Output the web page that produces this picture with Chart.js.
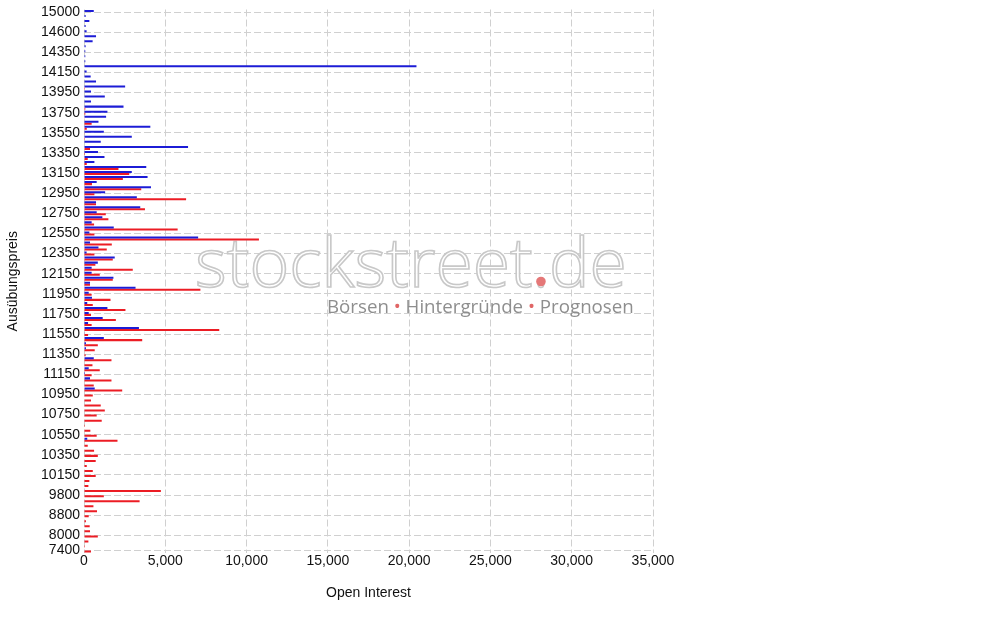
<!DOCTYPE html>
<html>
<head>
<meta charset="utf-8">
<title>Open Interest</title>
<script src="https://cdn.jsdelivr.net/npm/chart.js@4/dist/chart.umd.min.js"></script>
<style>
  html, body { margin: 0; padding: 0; background: #fff; }
  #wrap { position: relative; width: 1008px; height: 630px; }
</style>
</head>
<body>
<div id="wrap"><canvas id="oiChart" width="1008" height="630"></canvas></div>
<script>
// Strike prices, top to bottom
const strikes = [
  '15000', '14900', '14800', '14700', '14600', '14500', '14450', '14400',
  '14350', '14300', '14250', '14200', '14150', '14100', '14050', '14000',
  '13950', '13900', '13850', '13800', '13750', '13700', '13650', '13600',
  '13550', '13500', '13450', '13400', '13350', '13300', '13250', '13200',
  '13150', '13100', '13050', '13000', '12950', '12900', '12850', '12800',
  '12750', '12700', '12650', '12600', '12550', '12500', '12450', '12400',
  '12350', '12300', '12250', '12200', '12150', '12100', '12050', '12000',
  '11950', '11900', '11850', '11800', '11750', '11700', '11650', '11600',
  '11550', '11500', '11450', '11400', '11350', '11300', '11250', '11200',
  '11150', '11100', '11050', '11000', '10950', '10900', '10850', '10800',
  '10750', '10700', '10650', '10600', '10550', '10500', '10450', '10400',
  '10350', '10300', '10250', '10200', '10150', '10100', '10050', '10000',
  '9800', '9500', '9200', '9000', '8800', '8600', '8400', '8200',
  '8000', '7800', '7600', '7400'
];

// Calls open interest (blue)
const calls = [
  600, 100, 330, 100, 160, 740, 530, 100,
  80, 80, 80, 20450, 160, 410, 740, 2530,
  430, 1280, 430, 2430, 1440, 1360, 890, 4080,
  1220, 2940, 1030, 6400, 860, 1260, 640, 3830,
  2940, 3910, 780, 4120, 1300, 3250, 740, 3460,
  780, 1130, 470, 1830, 330, 7020, 370, 890,
  160, 1890, 850, 470, 470, 1810, 370, 3170,
  290, 490, 200, 1440, 290, 1150, 250, 3380,
  40, 1220, 120, 120, 0, 600, 0, 290,
  60, 370, 0, 660, 0, 0, 0, 30,
  0, 0, 0, 0, 0, 200, 0, 0,
  0, 0, 0, 0, 0, 0, 0, 40,
  0, 0, 0, 0, 0, 0, 0, 0,
  0, 0, 0, 0
];

// Puts open interest (red)
const puts = [
  0, 0, 0, 0, 0, 0, 0, 0,
  0, 0, 0, 0, 0, 0, 0, 60,
  0, 0, 0, 80, 80, 20, 470, 170,
  40, 60, 0, 370, 60, 230, 170, 2120,
  2780, 2390, 490, 3520, 640, 6280, 740, 3750,
  1340, 1500, 620, 5760, 640, 10760, 1710, 1400,
  640, 1770, 700, 3000, 970, 1770, 370, 7160,
  470, 1630, 540, 2550, 430, 1960, 470, 8320,
  250, 3580, 850, 660, 100, 1690, 520, 970,
  470, 1690, 600, 2350, 540, 430, 1030, 1280,
  780, 1090, 60, 390, 780, 2060, 230, 620,
  850, 720, 170, 540, 720, 330, 270, 4730,
  1220, 3420, 580, 800, 290, 120, 350, 370,
  850, 270, 60, 430
];

const FONT = 'Arial, "Liberation Sans", sans-serif';

// faint site watermark drawn behind the bars
const watermark = {
  id: 'watermark',
  beforeDatasetsDraw(chart) {
    const ctx = chart.ctx;
    ctx.save();
    // main logo text, sized to its width in the picture
    let size = 80;
    ctx.font = '300 ' + size + 'px "Open Sans", sans-serif';
    const w = ctx.measureText('stockstreet.de').width;
    size = size * 432 / w;
    ctx.font = '300 ' + size + 'px "Open Sans", sans-serif';
    ctx.textBaseline = 'alphabetic';
    ctx.fillStyle = 'rgba(255,255,255,0.92)';
    ctx.strokeStyle = '#c8c8c8';
    ctx.lineWidth = 1.6;
    ctx.fillText('stockstreet.de', 195, 287);
    ctx.strokeText('stockstreet.de', 195, 287);
    // red dot of ".de"
    const pre = ctx.measureText('stockstreet').width;
    const dotW = ctx.measureText('.').width;
    ctx.fillStyle = '#e57878';
    ctx.beginPath();
    ctx.arc(195 + pre + dotW / 2, 281.5, 4.8, 0, Math.PI * 2);
    ctx.fill();

    // tagline
    const parts = ['Börsen ', '•', ' Hintergründe ', '•', ' Prognosen'];
    let fs = 20;
    ctx.font = fs + 'px "Open Sans", sans-serif';
    const tw = ctx.measureText(parts.join('')).width;
    fs = fs * 307 / tw;
    ctx.font = fs + 'px "Open Sans", sans-serif';
    let x = 327;
    parts.forEach(p => {
      ctx.fillStyle = p === '•' ? '#e06666' : '#8e8e8e';
      ctx.fillText(p, x, 313);
      x += ctx.measureText(p).width;
    });
    ctx.restore();
  }
};

new Chart(document.getElementById('oiChart').getContext('2d'), {
  type: 'bar',
  data: {
    labels: strikes,
    datasets: [
      {
        label: 'Calls',
        data: calls,
        backgroundColor: 'rgb(28,28,214)',
        borderWidth: 0,
        categoryPercentage: 0.8,
        barPercentage: 1
      },
      {
        label: 'Puts',
        data: puts,
        backgroundColor: 'rgb(236,28,36)',
        borderWidth: 0,
        categoryPercentage: 0.8,
        barPercentage: 1
      }
    ]
  },
  plugins: [watermark],
  options: {
    indexAxis: 'y',
    responsive: false,
    animation: false,
    layout: { padding: { left: 0, right: 355, top: 9.5, bottom: 0 } },
    plugins: {
      legend: { display: false },
      tooltip: { enabled: false }
    },
    scales: {
      x: {
        min: 0,
        max: 35000,
        ticks: {
          stepSize: 5000,
          padding: 0,
          color: '#111',
          font: { family: FONT, size: 14 },
          callback: v => v.toLocaleString('en-US')
        },
        grid: { color: '#d0d0d0', drawTicks: false },
        border: { display: false, dash: [7, 3] },
        title: {
          display: true,
          text: 'Open Interest',
          color: '#111',
          font: { family: FONT, size: 14 },
          padding: { top: 0, bottom: 28 }
        },
        afterFit: s => { s.height = 77; }
      },
      y: {
        ticks: {
          autoSkip: false,
          padding: 4,
          color: '#111',
          font: { family: FONT, size: 14 },
          // label every fourth strike plus the last one
          callback: function (v, i) {
            if (i % 4 === 0 || i === strikes.length - 1) return strikes[i];
            return null;
          }
        },
        grid: { color: '#d0d0d0', drawTicks: false, offset: false },
        border: { display: false, dash: [7, 3] },
        title: {
          display: true,
          text: 'Ausübungspreis',
          color: '#111',
          font: { family: FONT, size: 14 },
          padding: { top: 5, bottom: 0 }
        },
        afterFit: s => {
          s.width = 84;
          // let the plot start right at the layout padding
          s.paddingTop = 0;
          s.paddingBottom = 0;
        }
      }
    }
  }
});
</script>
</body>
</html>
